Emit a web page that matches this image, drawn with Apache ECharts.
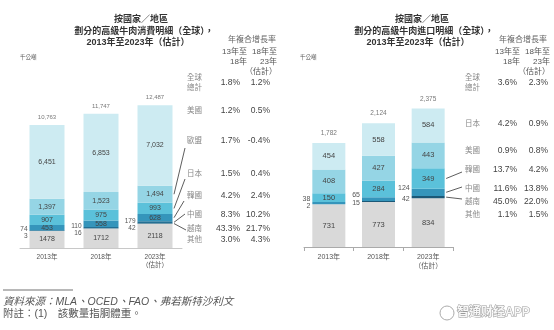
<!DOCTYPE html>
<html><head><meta charset="utf-8">
<script src="https://cdn.jsdelivr.net/npm/echarts@6/dist/echarts.min.js"></script>
<style>html,body{margin:0;padding:0;background:#fff}#c{width:554px;height:330px}</style>
</head><body><div id="c"></div><script>
// ---------- data ----------
const years = ['2013年', '2018年', '2023年\n（估計）'];
// consumption (left)
const consOther   = [1478, 1712, 2118];
const consVietnam = [3, 16, 42];
const consChina   = [74, 110, 179];
const consKorea   = [453, 558, 628];
const consJapan   = [907, 975, 993];
const consEU      = [1397, 1523, 1494];
const consUS      = [6451, 6853, 7032];
const consTotal   = [10763, 11747, 12487];
// imports (right)
const impOther   = [731, 773, 834];
const impVietnam = [2, 15, 42];
const impChina   = [38, 65, 124];
const impKorea   = [150, 284, 349];
const impUS      = [408, 427, 443];
const impJapan   = [454, 558, 584];
const impTotal   = [1782, 2124, 2375];
// CAGR tables
const consRateNames = ['全球\n總計', '美國', '歐盟', '日本', '韓國', '中國', '越南', '其他'];
const consRate1 = ['1.8%', '1.2%', '1.7%', '1.5%', '4.2%', '8.3%', '43.3%', '3.0%'];
const consRate2 = ['1.2%', '0.5%', '-0.4%', '0.4%', '2.4%', '10.2%', '21.7%', '4.3%'];
const impRateNames = ['全球\n總計', '日本', '美國', '韓國', '中國', '越南', '其他'];
const impRate1 = ['3.6%', '4.2%', '0.9%', '13.7%', '11.6%', '45.0%', '1.1%'];
const impRate2 = ['2.3%', '0.9%', '0.8%', '4.2%', '13.8%', '22.0%', '1.5%'];
const titleLines = ['按國家／地區', '劃分的高級牛肉消費明細（全球），', '2013年至2023年（估計）'];
const titleLinesR = ['按國家／地區', '劃分的高級牛肉進口明細（全球），', '2013年至2023年（估計）'];
const unitLabel = '千公噸';
const headerTop = '年複合增長率';
const headerCols = [['13年至', '18年至'], ['18年', '23年'], ['', '（估計）']];
const sourceText = '資料來源：MLA、OCED、FAO、弗若斯特沙利文';
const noteText = '附註：(1)　該數量指胴體重。';

// ---------- style / layout ----------
const FONT = '"Liberation Sans","Noto Sans CJK TC",sans-serif';
const consColors = {'其他':'#d9d9d9','越南':'#1b5877','中國':'#236f93','韓國':'#3595bb','日本':'#5bc1da','歐盟':'#95d5e5','美國':'#cdebf2'};
const impColors  = {'其他':'#d9d9d9','越南':'#1b5877','中國':'#3595bb','韓國':'#5bc1da','美國':'#95d5e5','日本':'#cdebf2'};
const consStack = [['其他',consOther],['越南',consVietnam],['中國',consChina],['韓國',consKorea],['日本',consJapan],['歐盟',consEU],['美國',consUS]];
const impStack  = [['其他',impOther],['越南',impVietnam],['中國',impChina],['韓國',impKorea],['美國',impUS],['日本',impJapan]];

const chart = echarts.init(document.getElementById('c'), null, {renderer: 'canvas'});

function buildSeries(stack, colors, g, o) {
  return stack.map(([name, data]) => {
    const small = (name === '越南' || name === '中國');
    return {
      name, type: 'bar', stack: 's' + g, xAxisIndex: g, yAxisIndex: g, data,
      barWidth: o.barWidth, itemStyle: {color: colors[name]}, silent: true,
      label: small
        ? {show: true, position: 'left', distance: 2, offset: o.offsets[name], fontSize: o.smallFont,
           color: '#555', fontFamily: FONT, formatter: p => String(p.value)}
        : {show: true, position: 'inside', fontSize: o.font, color: '#444', fontFamily: FONT,
           formatter: p => name === '其他' ? String(p.value) : p.value.toLocaleString('en-US')}
    };
  });
}
function totalSeries(data, g, dist, fs) {
  return {type: 'scatter', xAxisIndex: g, yAxisIndex: g, data, symbolSize: 1, silent: true,
    itemStyle: {color: 'rgba(0,0,0,0)'},
    label: {show: true, position: 'top', distance: dist, fontSize: fs, color: '#555', fontFamily: FONT,
      formatter: p => p.value.toLocaleString('en-US')}};
}

const option = {
  animation: false,
  grid: [
    {left: 20, width: 162, top: 88, bottom: 82},
    {left: 304, width: 149, top: 72, bottom: 83}
  ],
  xAxis: [
    {type: 'category', gridIndex: 0, data: years,
     axisLine: {lineStyle: {color: '#c8c8c8', width: 1}}, axisTick: {show: false},
     axisLabel: {fontSize: 6.5, color: '#555', margin: 5, lineHeight: 8, fontFamily: FONT}},
    {type: 'category', gridIndex: 1, data: years,
     axisLine: {lineStyle: {color: '#aaa', width: 1}},
     axisTick: {show: true, length: 4, lineStyle: {color: '#aaa'}},
     axisLabel: {fontSize: 7, color: '#555', margin: 6, lineHeight: 9, fontFamily: FONT}}
  ],
  yAxis: [
    {type: 'value', gridIndex: 0, min: 0, max: 14000, show: false},
    {type: 'value', gridIndex: 1, min: 0, max: 3000, show: false}
  ],
  series: [
    ...buildSeries(consStack, consColors, 0, {barWidth: 35, font: 7, smallFont: 6.5, offsets: {'中國': [0, -1.5], '越南': [0, 5]}}),
    totalSeries(consTotal, 0, 4, 6),
    ...buildSeries(impStack, impColors, 1, {barWidth: 33, font: 7.5, smallFont: 7, offsets: {'中國': [0, -4], '越南': [0, 1.5]}}),
    totalSeries(impTotal, 1, 6, 6.5)
  ]
};
chart.setOption(option);

// ---------- annotations ----------
function T(text, x, y, o) {
  o = o || {};
  return {type: 'text', x, y, silent: true, style: {
    text, fontSize: o.fs || 8, fill: o.color || '#555', fontFamily: FONT,
    fontWeight: o.weight || 'normal', fontStyle: o.italic ? 'italic' : 'normal',
    textAlign: o.align || 'left', align: o.align || 'left',
    textVerticalAlign: 'middle', verticalAlign: 'middle', lineHeight: o.lh || 10,
    stroke: o.stroke, lineWidth: o.lw || 0
  }};
}
const G = [];
// titles
const tPos = [[141, 20], [144, 31.5], [138, 43]];
const tPosR = [[422, 20], [424, 31.5], [418, 43]];
titleLines.forEach((t, i) => G.push(T(t, tPos[i][0], tPos[i][1], {fs: 9, align: 'center', color: '#333', weight: 'bold'})));
titleLinesR.forEach((t, i) => G.push(T(t, tPosR[i][0], tPosR[i][1], {fs: 9, align: 'center', color: '#333', weight: 'bold'})));
G.push(T(unitLabel, 20, 57, {fs: 5.5, color: '#555'}));
G.push(T(unitLabel, 300, 57, {fs: 5.5, color: '#555'}));
// headers
function header(cx, c1, c2) {
  G.push(T(headerTop, cx, 40, {fs: 8, align: 'center', color: '#666'}));
  const ys = [52, 62, 72];
  headerCols.forEach((row, i) => {
    if (row[0]) G.push(T(row[0], c1, ys[i], {fs: 8, align: 'right', color: '#555'}));
    if (row[1]) G.push(T(row[1], c2, ys[i], {fs: 8, align: 'right', color: '#555'}));
  });
}
header(252, 247, 277);
header(523, 520, 550);
// rows
const consRowY = [83, 111, 141, 174, 196, 215, 229, 240];
const impRowY = [83, 124, 151, 170, 189, 202, 215];
function rows(names, r1, r2, ys, nx, v1x, v2x) {
  names.forEach((n, i) => {
    G.push(T(n, nx, ys[i], {fs: 7.5, color: '#888', lh: 9.5}));
    G.push(T(r1[i], v1x, ys[i], {fs: 8.5, align: 'right', color: '#444'}));
    G.push(T(r2[i], v2x, ys[i], {fs: 8.5, align: 'right', color: '#444'}));
  });
}
rows(consRateNames, consRate1, consRate2, consRowY, 187, 240, 270);
rows(impRateNames, impRate1, impRate2, impRowY, 465, 517, 548);

// leader lines computed from scales
function leader(stack, g, barW, starts) {
  const last = stack[0][1].length - 1;
  const xc = chart.convertToPixel({gridIndex: g}, [last, 0])[0];
  let cum = 0;
  stack.forEach(([name, data]) => {
    const mid = cum + data[last] / 2;
    cum += data[last];
    if (starts[name]) {
      const y = chart.convertToPixel({gridIndex: g}, [last, mid])[1];
      G.push({type: 'line', silent: true, shape: {x1: starts[name][0], y1: starts[name][1], x2: xc + barW / 2 + 1.5, y2: y},
        style: {stroke: '#333', lineWidth: 0.8}});
    }
  });
}
leader(consStack, 0, 35, {'歐盟': [185, 148], '日本': [185, 179], '韓國': [184, 201], '中國': [185, 214], '越南': [186, 230]});
leader(impStack, 1, 33, {'韓國': [462, 172], '中國': [462, 187], '越南': [462, 199]});

// footnotes
G.push({type: 'line', silent: true, shape: {x1: 3, y1: 290, x2: 73, y2: 290}, style: {stroke: '#333', lineWidth: 0.7}});
G.push(T(sourceText, 3, 302, {fs: 10.5, color: '#555', italic: true}));
G.push(T(noteText, 3, 314, {fs: 10.5, color: '#555'}));
// watermark
G.push({type: 'circle', silent: true, shape: {cx: 447, cy: 313, r: 7}, style: {fill: 'rgba(255,255,255,0.6)', stroke: '#aaa', lineWidth: 1}});
G.push(T('智通财经APP', 457, 313, {fs: 12, color: '#f7f7f7', stroke: '#9a9a9a', lw: 1, weight: 'bold'}));

chart.setOption({graphic: {elements: G}});
</script></body></html>
